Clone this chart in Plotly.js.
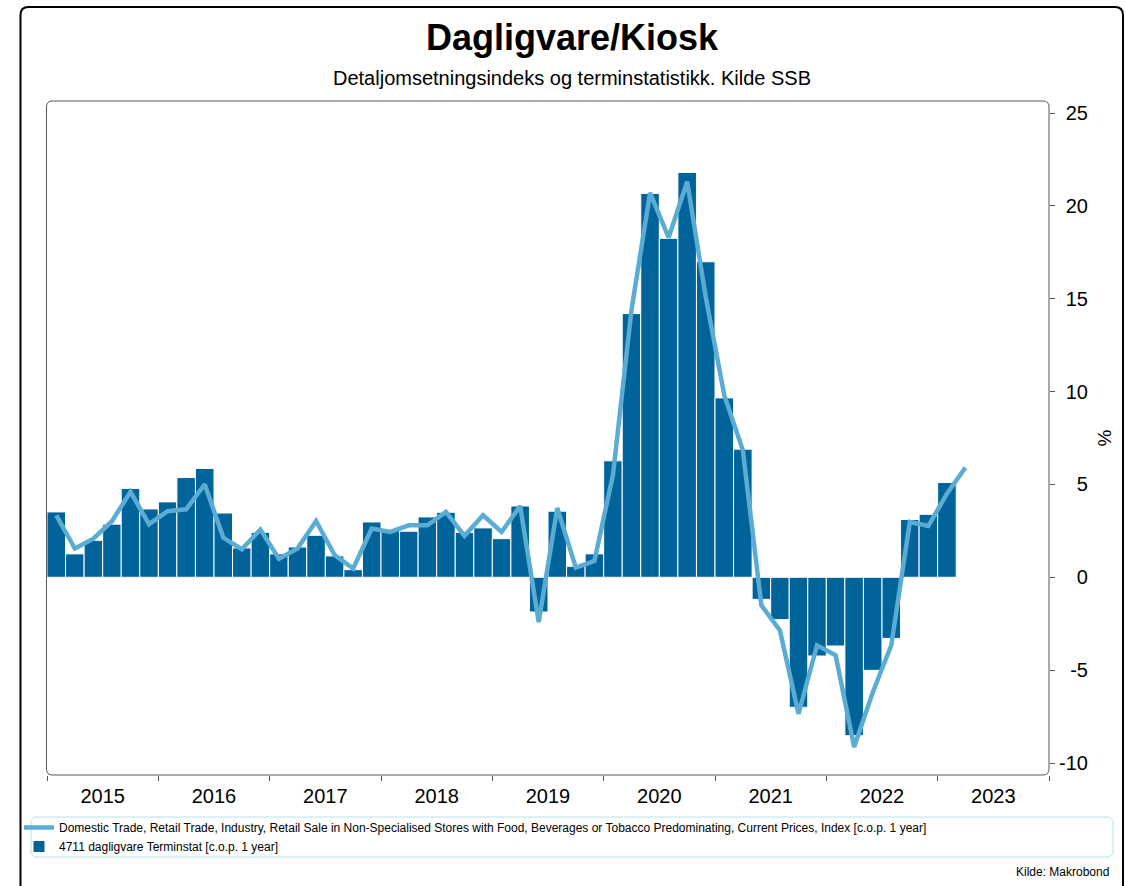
<!DOCTYPE html>
<html>
<head>
<meta charset="utf-8">
<script src="https://cdn.plot.ly/plotly-3.0.1.min.js"></script>
<style>html,body{margin:0;padding:0;background:#fff;}#chart{width:1125px;height:886px;}</style>
</head>
<body>
<div id="chart"></div>
<script>
// ---- data (bimonthly periods, starting Jan-Feb 2015) ----
const startYear = 2015;
const periodsPerYear = 6;
const yearLabels = ["2015","2016","2017","2018","2019","2020","2021","2022","2023"];
const barName = "4711 dagligvare Terminstat [c.o.p. 1 year]";
const lineName = "Domestic Trade, Retail Trade, Industry, Retail Sale in Non-Specialised Stores with Food, Beverages or Tobacco Predominating, Current Prices, Index [c.o.p. 1 year]";
const barValues = [
  3.52, 1.26, 1.99, 2.86, 4.78, 3.68,
  4.06, 5.37, 5.86, 3.46, 1.58, 2.42,
  1.26, 1.63, 2.26, 1.15, 0.41, 2.98,
  2.53, 2.48, 3.25, 3.50, 2.41, 2.66,
  2.08, 3.84, -1.87, 3.56, 0.59, 1.26,
  6.27, 14.20, 20.67, 18.25, 21.80, 16.99,
  9.66, 6.90, -1.19, -2.28, -7.00, -4.24,
  -3.70, -8.53, -5.01, -3.29, 3.11, 3.39,
  5.10
];
const lineValues = [
  3.34, 1.55, 2.08, 3.02, 4.60, 2.86,
  3.56, 3.66, 5.01, 2.14, 1.51, 2.57,
  1.00, 1.55, 3.03, 1.20, 0.47, 2.62,
  2.44, 2.80, 2.80, 3.52, 2.23, 3.34,
  2.44, 3.84, -2.41, 3.73, 0.52, 0.88,
  5.50, 14.40, 20.70, 18.30, 21.30, 15.10,
  9.80, 6.84, -1.51, -2.86, -7.35, -3.66,
  -4.20, -9.14, -6.20, -3.66, 2.98, 2.77,
  4.50, 5.91
];
const yTickVals = [-10, -5, 0, 5, 10, 15, 20, 25];
const yTickLabels = ["-10", "-5", "0", "5", "10", "15", "20", "25"];

// ---- helpers ----
const periodX = (i) => startYear + (i + 0.5) / periodsPerYear;
const barX = barValues.map((_, i) => periodX(i));
const lineX = lineValues.map((_, i) => periodX(i));
const yearMid = yearLabels.map((_, i) => startYear + i + 0.5);
const yearEdges = yearLabels.map((_, i) => startYear + i).concat([startYear + yearLabels.length]);

// right-align y labels by padding with invisible chars
function padLabel(s) {
  let pad = "";
  if (s.length === 1) pad = "-1";
  else if (s.length === 2 && s[0] === "-") pad = "1";
  else if (s.length === 2) pad = "-";
  return pad ? '<span style="color:#ffffff">' + pad + '</span>' + s : s;
}

const W = 1125, H = 886;
const M = {l: 47, r: 76, t: 101, b: 111};
const PW = W - M.l - M.r, PH = H - M.t - M.b;
const px2x = (px) => (px - M.l) / PW;
const py2y = (py) => (H - M.b - py) / PH;

function roundRect(x0, y0, x1, y1, r) {
  const X = px2x, Y = py2y;
  return "M" + X(x0 + r) + "," + Y(y0) +
    " L" + X(x1 - r) + "," + Y(y0) +
    " Q" + X(x1) + "," + Y(y0) + " " + X(x1) + "," + Y(y0 + r) +
    " L" + X(x1) + "," + Y(y1 - r) +
    " Q" + X(x1) + "," + Y(y1) + " " + X(x1 - r) + "," + Y(y1) +
    " L" + X(x0 + r) + "," + Y(y1) +
    " Q" + X(x0) + "," + Y(y1) + " " + X(x0) + "," + Y(y1 - r) +
    " L" + X(x0) + "," + Y(y0 + r) +
    " Q" + X(x0) + "," + Y(y0) + " " + X(x0 + r) + "," + Y(y0) + " Z";
}

const FONT = "Liberation Sans, Arial, sans-serif";
const barColor = "#00639a";
const lineColor = "#5aacd3";

const traces = [
  {
    type: "scatter", mode: "lines", name: lineName,
    x: lineX, y: lineValues,
    line: {color: lineColor, width: 4.5},
    hoverinfo: "skip"
  },
  {
    type: "bar", name: barName,
    x: barX, y: barValues,
    width: 1 / periodsPerYear,
    marker: {color: barColor, line: {color: "#ffffff", width: 1}},
    hoverinfo: "skip"
  }
];

const layout = {
  width: W, height: H,
  margin: M,
  paper_bgcolor: "#ffffff", plot_bgcolor: "#ffffff",
  font: {family: FONT, color: "#000"},
  showlegend: true,
  title: {
    text: "<b>Dagligvare/Kiosk</b>",
    font: {family: FONT, size: 36, color: "#000"},
    xref: "container", yref: "container",
    x: 572 / W, xanchor: "center",
    y: 1 - 37 / H, yanchor: "middle"
  },
  xaxis: {
    type: "linear",
    range: [startYear, startYear + yearLabels.length],
    tickmode: "array", tickvals: yearMid, ticktext: yearLabels,
    ticks: "", showgrid: false, zeroline: false, showline: false,
    tickfont: {family: FONT, size: 20, color: "#000"},
    ticklabelstandoff: 7,
    minor: {tickmode: "array", tickvals: yearEdges, ticks: "outside", ticklen: 5, tickwidth: 1, tickcolor: "#555", showgrid: false},
    fixedrange: true
  },
  yaxis: {
    side: "right",
    range: [-10.646, 25.646],
    tickmode: "array", tickvals: yTickVals, ticktext: yTickLabels.map(padLabel),
    ticks: "outside", ticklen: 5, tickwidth: 1, tickcolor: "#555",
    showgrid: false, zeroline: false, showline: false,
    tickfont: {family: FONT, size: 20, color: "#000"},
    title: {text: "%", font: {family: FONT, size: 19, color: "#000"}, standoff: 10},
    fixedrange: true
  },
  legend: {
    x: px2x(19), xanchor: "left",
    y: py2y(813), yanchor: "top",
    orientation: "v",
    font: {family: FONT, size: 12, color: "#000"},
    bgcolor: "rgba(0,0,0,0)", borderwidth: 0,
    traceorder: "normal", tracegroupgap: 0, itemwidth: 30
  },
  shapes: [
    {type: "path", xref: "paper", yref: "paper", path: roundRect(46.5, 101, 1049, 775, 6), line: {color: "#555", width: 1}, layer: "above"},
    {type: "path", xref: "paper", yref: "paper", path: roundRect(31, 817, 1113, 857, 6), line: {color: "#b8e2ec", width: 1}, layer: "above"},
    {type: "path", xref: "paper", yref: "paper", path: roundRect(20.5, 7, 1123, 910, 8), line: {color: "#000", width: 2}, layer: "above"}
  ],
  annotations: [
    {text: "Detaljomsetningsindeks og terminstatistikk. Kilde SSB", xref: "paper", yref: "paper",
     x: px2x(572), y: py2y(78), xanchor: "center", yanchor: "middle", showarrow: false,
     font: {family: FONT, size: 20, color: "#000"}},
    {text: "Kilde: Makrobond", xref: "paper", yref: "paper",
     x: px2x(1111), y: py2y(872), xanchor: "right", yanchor: "middle", showarrow: false,
     font: {family: FONT, size: 12, color: "#000"}}
  ]
};

Plotly.newPlot("chart", traces, layout, {displayModeBar: false, staticPlot: true});
</script>
</body>
</html>
